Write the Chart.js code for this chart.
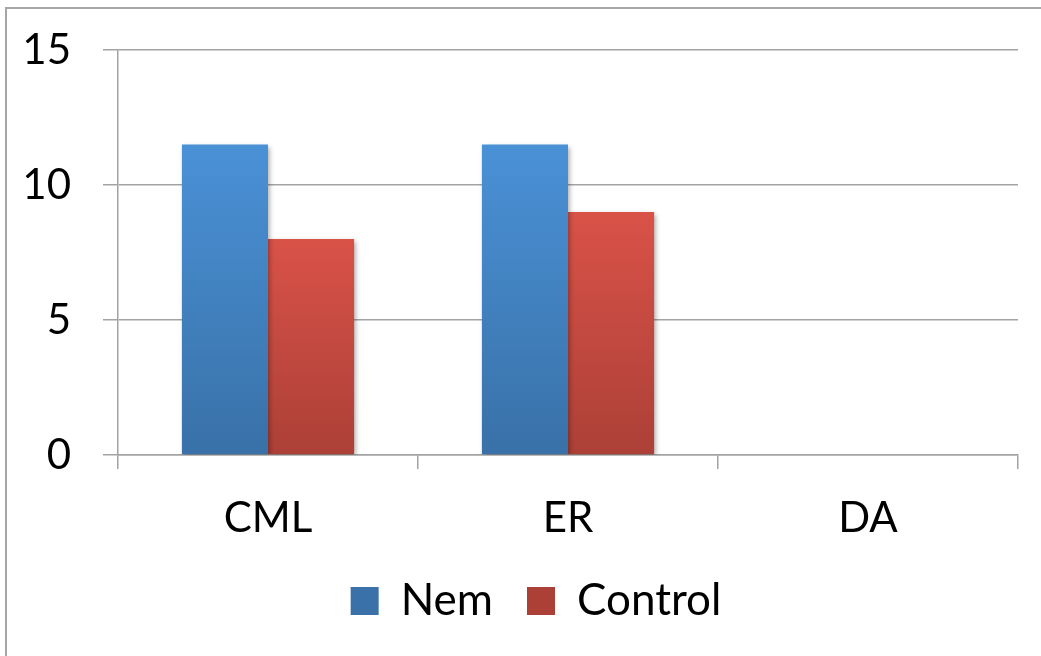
<!DOCTYPE html>
<html>
<head>
<meta charset="utf-8">
<script src="https://cdn.jsdelivr.net/npm/chart.js@4.4.1/dist/chart.umd.min.js"></script>
<style>
	html, body { margin: 0; padding: 0; background: #fff; overflow: hidden; }
	#wrap { position: relative; width: 1041px; height: 656px; }
	#frame { position: absolute; left: 5px; top: 7px; width: 1100px; height: 700px;
		border: 2px solid #a6a6a6; box-sizing: border-box; }
	#chart { position: absolute; left: 0; top: 0; }
</style>
</head>
<body>
<div id="wrap">
	<div id="frame"></div>
	<canvas id="chart" width="1041" height="656"></canvas>
</div>
<script>
// values
var categories = ["CML", "ER", "DA"];
var nem        = [11.5, 11.5, 0];
var control    = [8, 9, 0];
var yTicks     = [0, 5, 10, 15];

var FONT = "Lato, 'Open Sans', sans-serif";

function barFill(top, bottom) {
	return function (c) {
		var chart = c.chart;
		if (!chart.chartArea || c.raw === undefined) return top; // legend swatch
		var y = chart.scales.y;
		var g = chart.ctx.createLinearGradient(0, y.getPixelForValue(c.raw), 0, y.getPixelForValue(0));
		g.addColorStop(0, top);
		g.addColorStop(1, bottom);
		return g;
	};
}

// soft shadow under the bars
var barShadow = {
	id: 'barShadow',
	beforeDatasetsDraw: function (chart) {
		var ctx = chart.ctx;
		ctx.save();
		ctx.shadowColor = 'rgba(0,0,0,0.35)';
		ctx.shadowBlur = 5;
		ctx.shadowOffsetX = 2;
		ctx.shadowOffsetY = 2;
	},
	afterDatasetsDraw: function (chart) {
		chart.ctx.restore();
	}
};

// legend sits a bit right of the canvas centre
var legendShift = {
	id: 'legendShift',
	afterLayout: function (chart) {
		chart.legend.left += 27;
		chart.legend.right += 27;
	}
};

var ctx = document.getElementById('chart').getContext('2d');
var cfg = {
	type: 'bar',
	data: {
		labels: categories,
		datasets: [
			{
				label: 'Nem',
				data: nem,
				backgroundColor: barFill('#4a91d6', '#3971a8'),
				borderWidth: 0
			},
			{
				label: 'Control',
				data: control,
				backgroundColor: barFill('#d95248', '#ac4037'),
				borderWidth: 0
			}
		]
	},
	options: {
		responsive: false,
		animation: false,
		layout: { padding: { left: 0, right: 23, top: 50, bottom: 23 } },
		datasets: { bar: { categoryPercentage: 0.574, barPercentage: 1 } },
		plugins: {
			tooltip: { enabled: false },
			legend: {
				position: 'bottom',
				labels: {
					font: { family: FONT, size: 44 },
					color: '#000',
					boxWidth: 28,
					boxHeight: 28,
					padding: 34
				}
			}
		},
		scales: {
			x: {
				afterFit: function (s) { s.height = 90; s.paddingLeft = 0; s.paddingRight = 0; },
				grid: {
					drawOnChartArea: false,
					drawTicks: true,
					tickLength: 14,
					color: '#a3a3a3',
					lineWidth: 1.5
				},
				border: { color: '#a3a3a3', width: 1.5 },
				ticks: {
					font: { family: FONT, size: 42 },
					color: '#000',
					padding: 24
				}
			},
			y: {
				min: 0,
				max: 15,
				afterFit: function (s) { s.width = 118; s.paddingTop = 0; s.paddingBottom = 0; },
				afterBuildTicks: function (s) {
					s.ticks = yTicks.map(function (v) { return { value: v }; });
				},
				grid: {
					color: '#a3a3a3',
					lineWidth: 1.5,
					tickLength: 15
				},
				border: { color: '#a3a3a3', width: 1.5 },
				ticks: {
					font: { family: FONT, size: 42 },
					color: '#000',
					padding: 32
				}
			}
		}
	},
	plugins: [barShadow, legendShift]
};
var chart = new Chart(ctx, cfg);
</script>
</body>
</html>
